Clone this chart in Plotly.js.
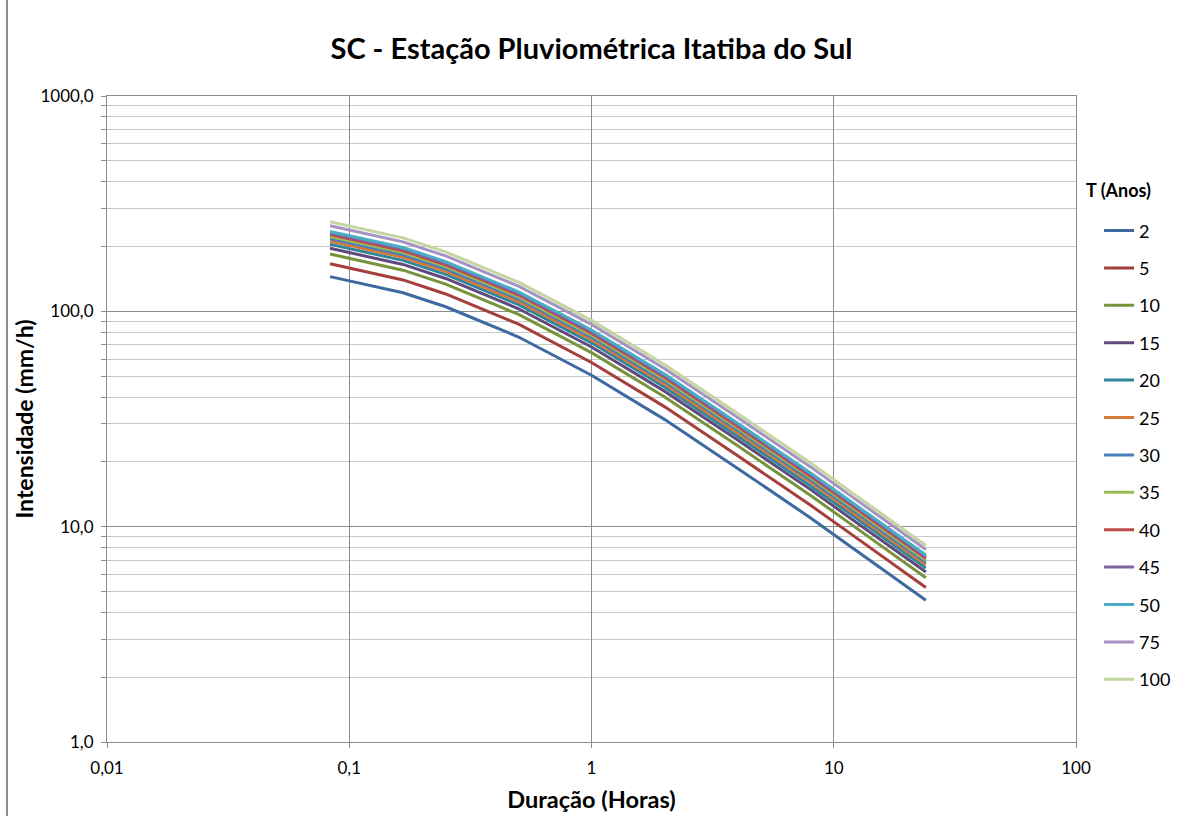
<!DOCTYPE html>
<html>
<head>
<meta charset="utf-8">
<script src="https://cdn.plot.ly/plotly-3.0.1.min.js"></script>
<style>html,body{margin:0;padding:0;background:#fff;}#chart{width:1182px;height:816px;}</style>
</head>
<body>
<div id="chart"></div>
<script>
// Duração (horas): 5, 10, 15, 30 min, 1, 2, 4, 8, 12, 24 h
const duracao = [0.0833, 0.1667, 0.25, 0.5, 1, 2, 4, 8, 12, 24];
const seriesNames = ["2","5","10","15","20","25","30","35","40","45","50","75","100"];
const t2   = [145.0, 122.0, 105.0, 76.0, 50.5, 31.5, 18.7, 11.0, 7.94, 4.55];
const t5   = [166.3, 139.9, 120.4, 87.2, 57.9, 36.1, 21.4, 12.6, 9.11, 5.22];
const t10  = [184.6, 155.3, 133.7, 96.7, 64.3, 40.1, 23.8, 14.0, 10.11, 5.79];
const t15  = [196.2, 165.1, 142.1, 102.8, 68.3, 42.6, 25.3, 14.9, 10.74, 6.16];
const t20  = [204.9, 172.4, 148.4, 107.4, 71.4, 44.5, 26.4, 15.5, 11.22, 6.43];
const t25  = [211.8, 178.2, 153.4, 111.0, 73.8, 46.0, 27.3, 16.1, 11.60, 6.65];
const t30  = [217.6, 183.1, 157.6, 114.1, 75.8, 47.3, 28.1, 16.5, 11.92, 6.83];
const t35  = [222.7, 187.4, 161.3, 116.7, 77.6, 48.4, 28.7, 16.9, 12.20, 6.99];
const t40  = [227.2, 191.2, 164.5, 119.1, 79.1, 49.4, 29.3, 17.2, 12.44, 7.13];
const t45  = [231.3, 194.6, 167.5, 121.2, 80.5, 50.2, 29.8, 17.5, 12.66, 7.26];
const t50  = [235.0, 197.8, 170.2, 123.2, 81.9, 51.1, 30.3, 17.8, 12.87, 7.38];
const t75  = [249.8, 210.2, 180.9, 130.9, 87.0, 54.3, 32.2, 19.0, 13.68, 7.84];
const t100 = [260.7, 219.4, 188.8, 136.6, 90.8, 56.6, 33.6, 19.8, 14.28, 8.18];
const seriesValues = [t2,t5,t10,t15,t20,t25,t30,t35,t40,t45,t50,t75,t100];
const xTickVals = [0.01, 0.1, 1, 10, 100];
const xTickText = ["0,01", "0,1", "1", "10", "100"];
const yTickVals = [1, 10, 100, 1000];
const yTickText = ["1,0", "10,0", "100,0", "1000,0"];

const colors = ["#3D6AA1","#A53F3C","#77933C","#604A7B","#31859C","#D47A35",
                "#4A7EBB","#9BBB59","#BE4B48","#8064A2","#4BACC6","#A593C3","#C4D6A0"];

const minorY = [];
[1,10,100].forEach(d => { for (let k=2;k<=9;k++) minorY.push(k*d); });

const FONT = "Lato, 'Open Sans', sans-serif";

const traces = seriesNames.map((n,i) => ({
  x: duracao, y: seriesValues[i], name: n, type: "scatter", mode: "lines",
  line: {color: colors[i], width: 3}, legendgroup: "g"+i
}));

const layout = {
  width: 1182, height: 816,
  margin: {l:107, r:106, t:96, b:74, autoexpand: false},
  paper_bgcolor: "#fff", plot_bgcolor: "#fff",
  font: {family: FONT, color: "#000", size: 17},
  title: {text: "<b>SC - Estação Pluviométrica Itatiba do Sul</b>", font: {size: 29, family: FONT},
          x: 0.5, xanchor: "center", y: 0.94, yanchor: "middle", xref: "paper"},
  xaxis: {
    type: "log", range: [-2, 2],
    tickvals: xTickVals, ticktext: xTickText,
    showgrid: true, gridcolor: "#8c8c8c", gridwidth: 1,
    ticks: "outside", ticklen: 5, tickcolor: "#8c8c8c",
    showline: true, linecolor: "#8c8c8c", mirror: true,
    zeroline: false, ticklabelstandoff: 6, automargin: false,
    tickfont: {size: 17},
    title: {text: "<b>Duração (Horas)</b>", font: {size: 23.5}, standoff: 14}
  },
  yaxis: {
    type: "log", range: [0, 3],
    tickvals: yTickVals, ticktext: yTickText,
    showgrid: true, gridcolor: "#8c8c8c", gridwidth: 1,
    ticks: "outside", ticklen: 5, tickcolor: "#8c8c8c",
    showline: true, linecolor: "#8c8c8c", mirror: true,
    zeroline: false, ticklabelstandoff: 4, automargin: false,
    tickfont: {size: 17},
    minor: {tickvals: minorY, showgrid: true, gridcolor: "#c8c8c8", gridwidth: 1,
            ticks: "outside", ticklen: 5, tickcolor: "#8c8c8c"},
    title: {text: "<b>Intensidade (mm/h)</b>", font: {size: 23}, standoff: 0}
  },
  legend: {
    x: 1.0238, xanchor: "left", y: 0.82, yanchor: "top",
    bgcolor: "rgba(0,0,0,0)", font: {size: 18},
    tracegroupgap: 11, itemwidth: 30
  },
  annotations: [
    {text: "<b>T (Anos)</b>", xref: "paper", yref: "paper", x: 1 + (1084 - 1076) / 969, y: 1 - (190 - 96) / 646,
     xanchor: "left", yanchor: "middle", showarrow: false, font: {size: 18}}
  ],
  shapes: [
    {type: "line", xref: "paper", yref: "paper", x0: -0.1032, x1: -0.1032, y0: -0.2, y1: 1.2,
     line: {color: "#8c8c8c", width: 2}}
  ],
  showlegend: true
};

Plotly.newPlot("chart", traces, layout, {displayModeBar: false, staticPlot: true});
</script>
</body>
</html>
